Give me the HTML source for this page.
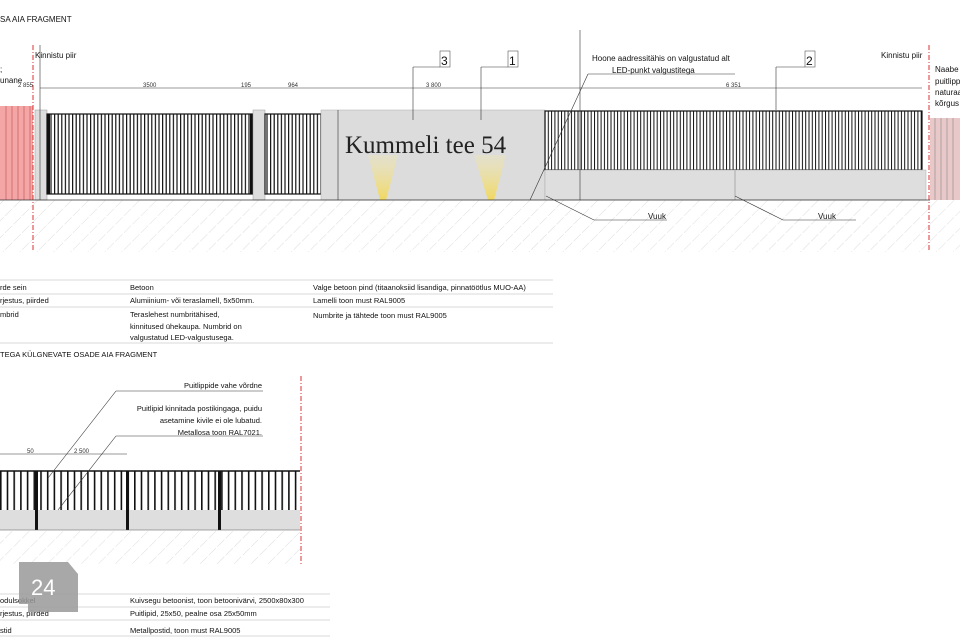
<!DOCTYPE html>
<html><head><meta charset="utf-8"><style>
html,body{margin:0;padding:0;background:#fff;}
svg{display:block;font-family:"Liberation Sans",sans-serif;}
</style></head><body>
<svg width="960" height="640" viewBox="0 0 960 640" xmlns="http://www.w3.org/2000/svg">
<defs>
<pattern id="hatch" width="12" height="12" patternUnits="userSpaceOnUse" patternTransform="rotate(45)">
<line x1="0" y1="0" x2="0" y2="12" stroke="#ddd" stroke-width="1" stroke-dasharray="5,2"/>
</pattern>
<pattern id="slat" width="6.7" height="10" patternUnits="userSpaceOnUse">
<rect width="6.7" height="10" fill="#fff"/><rect width="1.6" height="10" fill="#111"/>
</pattern>
<pattern id="slat2" width="3.6" height="10" patternUnits="userSpaceOnUse">
<rect width="3.6" height="10" fill="#fff"/><rect width="1.2" height="10" fill="#111"/>
</pattern>
<pattern id="slat3" width="3.3" height="10" patternUnits="userSpaceOnUse">
<rect width="3.3" height="10" fill="#fff"/><rect width="1" height="10" fill="#111"/>
</pattern>
<linearGradient id="cone" x1="0" y1="0" x2="0" y2="1"><stop offset="0" stop-color="#f3e7a8" stop-opacity="0.3"/><stop offset="1" stop-color="#f0d860"/></linearGradient>
</defs>
<g font-size="8" fill="#111">
<text x="0" y="22">SA AIA FRAGMENT</text>
<text x="0" y="72">;</text>
<text x="0" y="83">unane</text>
<text x="35" y="58">Kinnistu piir</text>
<text x="881" y="58">Kinnistu piir</text>
<text x="935" y="72">Naabe</text><text x="935" y="84">puitlipp</text><text x="935" y="95">naturaa</text><text x="935" y="106">kõrgus</text>
<text x="592" y="61">Hoone aadressitähis on valgustatud alt</text>
<text x="612" y="73">LED-punkt valgustitega</text>
</g>
<rect x="0" y="200" width="960" height="52" fill="url(#hatch)"/>
<rect x="0" y="106" width="33" height="94" fill="#f4a5a5"/>
<g stroke="#c05050" stroke-width="0.6"><line x1="6" y1="106" x2="6" y2="200"/><line x1="12" y1="106" x2="12" y2="200"/><line x1="18" y1="106" x2="18" y2="200"/><line x1="24" y1="106" x2="24" y2="200"/><line x1="30" y1="106" x2="30" y2="200"/></g>
<line x1="33" y1="45" x2="33" y2="250" stroke="#d33" stroke-dasharray="5,2,1,2"/>
<line x1="929" y1="45" x2="929" y2="250" stroke="#d33" stroke-dasharray="5,2,1,2"/>
<rect x="930" y="118" width="30" height="82" fill="#e8c8c8"/>
<g stroke="#888" stroke-width="0.6"><line x1="935" y1="118" x2="935" y2="200"/><line x1="941" y1="118" x2="941" y2="200"/><line x1="947" y1="118" x2="947" y2="200"/><line x1="953" y1="118" x2="953" y2="200"/></g>
<rect x="35" y="110" width="12" height="90" fill="#ddd" stroke="#999" stroke-width="0.5"/>
<rect x="47" y="114" width="206" height="80" fill="url(#slat2)" stroke="#111" stroke-width="1.2"/>
<rect x="47" y="114" width="3" height="80" fill="#111"/><rect x="250" y="114" width="3" height="80" fill="#111"/>
<rect x="253" y="110" width="12" height="90" fill="#ddd" stroke="#999" stroke-width="0.5"/>
<rect x="265" y="114" width="56" height="80" fill="url(#slat2)" stroke="#111" stroke-width="1.2"/>
<rect x="321" y="110" width="224" height="90" fill="#dcdcdc" stroke="#aaa" stroke-width="0.5"/>
<polygon points="368,155 398,155 386,200 380,200" fill="url(#cone)"/>
<polygon points="474,155 506,155 494,200 488,200" fill="url(#cone)"/>
<text x="345" y="153" font-family="Liberation Serif,serif" font-size="25" fill="#222">Kummeli tee 54</text>
<rect x="545" y="111" width="377" height="59" fill="url(#slat3)" stroke="#111" stroke-width="1.2"/>
<rect x="545" y="170" width="381" height="30" fill="#dedede" stroke="#aaa" stroke-width="0.5"/>
<line x1="735" y1="170" x2="735" y2="200" stroke="#aaa"/>
<line x1="0" y1="200" x2="930" y2="200" stroke="#333" stroke-width="0.8"/>
<g stroke="#333" stroke-width="0.6" fill="none">
<line x1="40" y1="88" x2="922" y2="88"/>
<line x1="40" y1="45" x2="40" y2="200"/>
<line x1="580" y1="30" x2="580" y2="200"/>
<line x1="338" y1="110" x2="338" y2="200"/>
<line x1="413" y1="67" x2="413" y2="120"/><line x1="413" y1="67" x2="440" y2="67"/>
<line x1="481" y1="67" x2="481" y2="120"/><line x1="481" y1="67" x2="508" y2="67"/>
<line x1="776" y1="67" x2="776" y2="110"/><line x1="776" y1="67" x2="805" y2="67"/>
<line x1="530" y1="200" x2="588" y2="74"/><line x1="588" y1="74" x2="735" y2="74"/>
<line x1="546" y1="196" x2="594" y2="220"/><line x1="594" y1="220" x2="667" y2="220"/>
<line x1="735" y1="196" x2="783" y2="220"/><line x1="783" y1="220" x2="856" y2="220"/>
</g>
<g font-size="12" fill="#111"><rect x="440" y="51" width="10" height="16" fill="#fff" stroke="#555" stroke-width="0.6"/><text x="441" y="65">3</text>
<rect x="508" y="51" width="10" height="16" fill="#fff" stroke="#555" stroke-width="0.6"/><text x="509" y="65">1</text>
<rect x="805" y="51" width="10" height="16" fill="#fff" stroke="#555" stroke-width="0.6"/><text x="806" y="65">2</text></g>
<g font-size="6" fill="#333">
<text x="18" y="87">2 855</text><text x="143" y="87">3500</text><text x="241" y="87">195</text><text x="288" y="87">964</text><text x="426" y="87">3 800</text><text x="726" y="87">6 351</text>
<text x="818" y="219" font-size="8" fill="#111">Vuuk</text><text x="648" y="219" font-size="8" fill="#111">Vuuk</text>
</g>
<g stroke="#ccc" stroke-width="0.8"><line x1="0" y1="280" x2="553" y2="280"/><line x1="0" y1="294" x2="553" y2="294"/><line x1="0" y1="307" x2="553" y2="307"/><line x1="0" y1="343" x2="553" y2="343"/></g>
<g font-size="7.5" fill="#111">
<text x="0" y="290">rde sein</text><text x="130" y="290">Betoon</text><text x="313" y="290">Valge betoon pind (titaanoksiid lisandiga, pinnatöötlus MUO-AA)</text>
<text x="0" y="303">rjestus, piirded</text><text x="130" y="303">Alumiinium- või teraslamell, 5x50mm.</text><text x="313" y="303">Lamelli toon must RAL9005</text>
<text x="0" y="317">mbrid</text><text x="130" y="317">Teraslehest numbritähised,</text><text x="130" y="329">kinnitused ühekaupa. Numbrid on</text><text x="130" y="340">valgustatud LED-valgustusega.</text><text x="313" y="318">Numbrite ja tähtede toon must RAL9005</text>
<text x="0" y="357">TEGA KÜLGNEVATE OSADE AIA FRAGMENT</text>
</g>
<rect x="0" y="530" width="300" height="35" fill="url(#hatch)"/>
<line x1="301" y1="376" x2="301" y2="565" stroke="#d33" stroke-dasharray="5,2,1,2"/>
<rect x="0" y="510" width="300" height="20" fill="#dedede"/>
<rect x="0" y="471" width="300" height="39" fill="url(#slat)"/>
<line x1="0" y1="471" x2="300" y2="471" stroke="#111" stroke-width="1.5"/>
<rect x="35" y="471" width="3" height="59" fill="#111"/><rect x="126" y="471" width="3" height="59" fill="#111"/><rect x="218" y="471" width="3" height="59" fill="#111"/>
<line x1="0" y1="530" x2="300" y2="530" stroke="#555" stroke-width="0.6"/>
<g stroke="#333" stroke-width="0.6" fill="none">
<line x1="0" y1="454" x2="127" y2="454"/>
<line x1="48" y1="478" x2="116" y2="391"/><line x1="116" y1="391" x2="263" y2="391"/>
<line x1="58" y1="510" x2="116" y2="436"/><line x1="116" y1="436" x2="263" y2="436"/>
</g>
<g font-size="7.5" fill="#111" text-anchor="end">
<text x="262" y="388">Puitlippide vahe võrdne</text>
<text x="262" y="411">Puitlipid kinnitada postikingaga, puidu</text>
<text x="262" y="423">asetamine kivile ei ole lubatud.</text>
<text x="262" y="435">Metallosa toon RAL7021.</text>
</g>
<g font-size="6" fill="#333"><text x="27" y="453">50</text><text x="74" y="453">2 500</text></g>
<g stroke="#ccc" stroke-width="0.8"><line x1="0" y1="594" x2="330" y2="594"/><line x1="0" y1="607" x2="330" y2="607"/><line x1="0" y1="620" x2="330" y2="620"/><line x1="0" y1="636" x2="330" y2="636"/></g>
<g font-size="7.5" fill="#111">
<text x="0" y="603">odulsokkel</text><text x="130" y="603">Kuivsegu betoonist, toon betoonivärvi, 2500x80x300</text>
<text x="0" y="616">rjestus, piirded</text><text x="130" y="616">Puitlipid, 25x50, pealne osa 25x50mm</text>
<text x="0" y="633">stid</text><text x="130" y="633">Metallpostid, toon must RAL9005</text>
</g>
<path d="M19,562 H68 L78,574 V612 H28 V604 H19 Z" fill="#999" opacity="0.85"/>
<text x="31" y="595" font-size="22" fill="#fff">24</text>
</svg>
</body></html>
